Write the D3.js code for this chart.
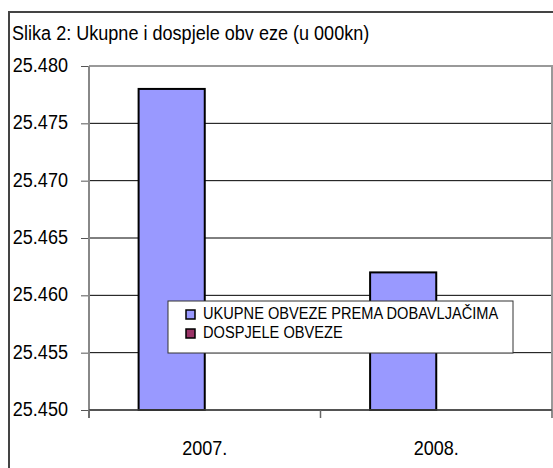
<!DOCTYPE html>
<meta charset="utf-8">
<style>
body { margin: 0; background: #fff; }
text { font-family: "Liberation Sans", Arial, sans-serif; fill: #000; }
</style>

<svg width="553" height="468"></svg>

<script src="https://d3js.org/d3.v7.min.js"></script>
<script>

// podaci (u 000 kn)
var godine = ["2007.", "2008."];
var serije = ["UKUPNE OBVEZE PREMA DOBAVLJAČIMA", "DOSPJELE OBVEZE"];
var ukupne = [25478, 25462];
var dospjele = [null, null];   // ispod minimuma osi, ne vide se
var yTicks = [25450, 25455, 25460, 25465, 25470, 25475, 25480];
var boje = ["#9999ff", "#993366"];

var svg = d3.select("svg");

var hr = d3.formatLocale({decimal: ",", thousands: ".", grouping: [3], currency: ["", " kn"]});
var fmt = hr.format(",d");

var sx = 0.86; // tekst je malo stisnut

function tekst(g, x, y, s, size, anchor) {
  g.append("g")
      .attr("transform", "translate(" + x + "," + y + ") scale(" + sx + ",1)")
    .append("text")
      .attr("font-size", size)
      .attr("text-anchor", anchor || "start")
      .text(s);
}

// okvir
svg.append("path")
    .attr("d", "M9,468V12H553")
    .attr("fill", "none")
    .attr("stroke", "#444")
    .attr("stroke-width", 2);

tekst(svg, 12, 40, "Slika 2: Ukupne i dospjele obv eze (u 000kn)", 21);

var y = d3.scaleLinear().domain([25450, 25480]).range([410, 66]);
var x = d3.scaleBand().domain(godine).range([89, 552]);
var xs = d3.scaleBand().domain(serije).range([0, x.bandwidth()]).paddingOuter(0.75);

// mreža
svg.append("g")
  .selectAll("line")
  .data(yTicks.slice(0, -1))
  .enter().append("line")
    .attr("x1", 89).attr("x2", 552)
    .attr("y1", d => y(d)).attr("y2", d => y(d))
    .attr("stroke", "#000").attr("stroke-width", 1);

// gornji i desni rub
svg.append("path")
    .attr("d", "M89," + y(25480) + "H552V" + y(25450))
    .attr("fill", "none")
    .attr("stroke", "#999")
    .attr("stroke-width", 2);

// stupci
var redovi = godine.map((g, i) => ({god: g, vr: [ukupne[i], dospjele[i]]}));

svg.append("g")
  .selectAll("g")
  .data(redovi)
  .enter().append("g")
    .attr("transform", d => "translate(" + x(d.god) + ",0)")
  .selectAll("rect")
  .data(d => d.vr.map((v, j) => ({s: serije[j], v: v, j: j})).filter(e => e.v != null && e.v > 25450))
  .enter().append("rect")
    .attr("x", d => xs(d.s))
    .attr("width", xs.bandwidth())
    .attr("y", d => y(d.v))
    .attr("height", d => y(25450) - y(d.v))
    .attr("fill", d => boje[d.j])
    .attr("stroke", "#000")
    .attr("stroke-width", 2);

// y os
var yAxis = svg.append("g")
    .attr("transform", "translate(89,0)")
    .call(d3.axisLeft(y).tickValues(yTicks).tickSize(8).tickFormat(fmt));
yAxis.select(".domain").remove();
yAxis.selectAll("line").attr("stroke", "#555");
yAxis.selectAll("text").remove();
yTicks.forEach(t => tekst(svg, 68, y(t) + 6, fmt(t), 21, "end"));

svg.append("line")
    .attr("x1", 89).attr("x2", 89)
    .attr("y1", 66).attr("y2", 418)
    .attr("stroke", "#888").attr("stroke-width", 2);

// x os
svg.append("line")
    .attr("x1", 89).attr("x2", 552)
    .attr("y1", 410).attr("y2", 410)
    .attr("stroke", "#444").attr("stroke-width", 1.5);

svg.append("g")
  .selectAll("line")
  .data(godine.concat(["kraj"]))
  .enter().append("line")
    .attr("x1", (d, i) => i < godine.length ? x(d) : x.range()[1])
    .attr("x2", (d, i) => i < godine.length ? x(d) : x.range()[1])
    .attr("y1", 410).attr("y2", 418)
    .attr("stroke", "#666").attr("stroke-width", 1.5);

godine.forEach(g => tekst(svg, x(g) + x.bandwidth() / 2, 455, g, 21, "middle"));

// legenda
var leg = svg.append("g").attr("transform", "translate(168,301)");
leg.append("rect")
    .attr("width", 345).attr("height", 52)
    .attr("fill", "#fff")
    .attr("stroke", "#333").attr("stroke-width", 1);

serije.forEach((s, i) => {
  leg.append("rect")
      .attr("x", 18).attr("y", 9 + i * 19)
      .attr("width", 9).attr("height", 9)
      .attr("fill", boje[i])
      .attr("stroke", "#000").attr("stroke-width", 1.5);
  tekst(leg, 35, 18 + i * 19, s, 17);
});

</script>
